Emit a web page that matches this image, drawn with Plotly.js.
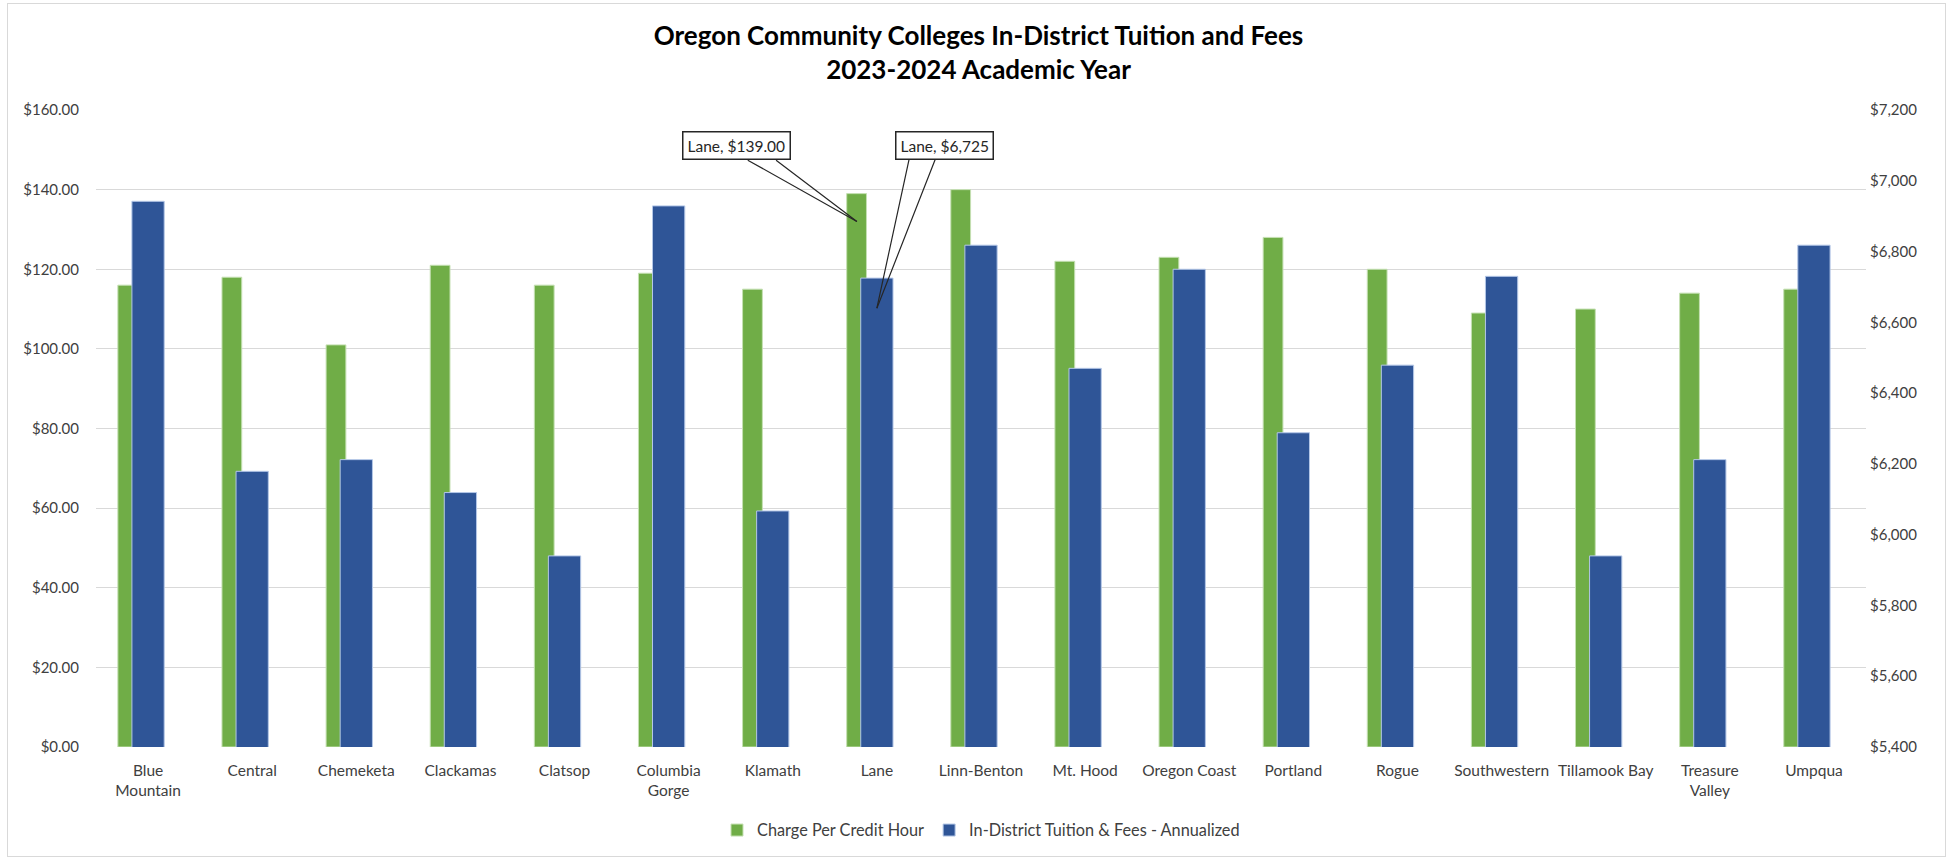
<!DOCTYPE html>
<html>
<head>
<meta charset="utf-8">
<script src="https://cdn.plot.ly/plotly-3.0.1.min.js"></script>
<style>
  html, body { margin: 0; padding: 0; background: #ffffff; }
  #wrap { position: relative; width: 1957px; height: 861px; }
  #chart { position: absolute; left: 0; top: 0; width: 1957px; height: 861px; }
  #frame { position: absolute; left: 7px; top: 3px; width: 1939px; height: 854px;
           border: 1px solid #D9D9D9; pointer-events: none; box-sizing: border-box; }
</style>
</head>
<body>
<div id="wrap"><div id="chart"></div><div id="frame"></div></div>
<script>
// ---- data ----
const colleges = ["Blue Mountain", "Central", "Chemeketa", "Clackamas", "Clatsop",
  "Columbia Gorge", "Klamath", "Lane", "Linn-Benton", "Mt. Hood", "Oregon Coast",
  "Portland", "Rogue", "Southwestern", "Tillamook Bay", "Treasure Valley", "Umpqua"];

const tickLabels = ["Blue<br>Mountain", "Central", "Chemeketa", "Clackamas", "Clatsop",
  "Columbia<br>Gorge", "Klamath", "Lane", "Linn-Benton", "Mt. Hood", "Oregon Coast",
  "Portland", "Rogue", "Southwestern", "Tillamook Bay", "Treasure<br>Valley", "Umpqua"];

const chargePerCreditHour = [116, 118, 101, 121, 116, 119, 115, 139, 140, 122, 123,
  128, 120, 109, 110, 114, 115];

const annualizedTuition = [6942, 6179, 6212, 6119, 5940, 6929, 6067, 6725, 6818, 6470,
  6750, 6288, 6479, 6730, 5940, 6212, 6818];

const leftTicks = [0, 20, 40, 60, 80, 100, 120, 140, 160];
const rightTicks = [5400, 5600, 5800, 6000, 6200, 6400, 6600, 6800, 7000, 7200];

// callout targets (where the callout wedges point)
const calloutCollege = "Lane";
const greenCalloutY = 132;
const blueCalloutY = 6640;

// ---- chart ----
const li = colleges.indexOf(calloutCollege);
const fmtMoney2 = v => "$" + v.toFixed(2);
const fmtMoney0 = v => "$" + v.toLocaleString("en-US");

const GREEN = "#70AD47", BLUE = "#2F5597";
const FONT = "Lato, 'Open Sans', sans-serif";
const TXT = "#404040";

const traces = [
  {
    type: "bar", name: "Charge Per Credit Hour",
    x: colleges, y: chargePerCreditHour, yaxis: "y",
    width: 0.19, offset: -0.29,
    marker: { color: GREEN, line: { color: "#C5E0B3", width: 1 } },
    hoverinfo: "skip"
  },
  {
    type: "bar", name: "In-District Tuition & Fees - Annualized",
    x: colleges, y: annualizedTuition, yaxis: "y2",
    width: 0.31, offset: -0.155,
    marker: { color: BLUE, line: { color: "#B4C7E7", width: 1 } },
    hoverinfo: "skip"
  }
];

function callout(text, yref, yval, xshift, boxAx, boxAy, wedge) {
  const out = [{
    x: calloutCollege, y: yval, xref: "x", yref: yref, xshift: xshift,
    text: text, showarrow: true, arrowcolor: "rgba(0,0,0,0)", arrowhead: 0,
    ax: boxAx, ay: boxAy,
    font: { family: FONT, size: 15.5, color: "#262626" },
    bgcolor: "#ffffff", bordercolor: "#262626", borderwidth: 1.5, borderpad: 4
  }];
  wedge.forEach(([ax, ay]) => out.push({
    x: calloutCollege, y: yval, xref: "x", yref: yref, xshift: xshift,
    text: "", showarrow: true, arrowhead: 0, arrowwidth: 1.2, arrowcolor: "#262626",
    ax: ax, ay: ay, standoff: 0, startstandoff: 0, borderpad: 0
  }));
  return out;
}

const annotations = [].concat(
  callout(calloutCollege + ", " + fmtMoney2(chargePerCreditHour[li]), "y", greenCalloutY, -20,
          -120, -76, [[-109.6, -61.6], [-81.3, -61.6]]),
  callout(calloutCollege + ", " + fmtMoney0(annualizedTuition[li]), "y2", blueCalloutY, 0,
          68, -163, [[32.3, -149.4], [58.6, -149.4]])
);

const layout = {
  width: 1957, height: 861,
  paper_bgcolor: "#ffffff", plot_bgcolor: "#ffffff",
  margin: { l: 96, r: 91, t: 110, b: 113.5 },
  barmode: "overlay",
  title: {
    text: "Oregon Community Colleges In-District Tuition and Fees<br>2023-2024 Academic Year",
    font: { family: FONT, size: 26, color: "#000000", weight: "bold" },
    x: 0.5, xanchor: "center", yref: "container", y: 1 - 45 / 861, yanchor: "top"
  },
  xaxis: {
    type: "category", tickmode: "array", tickvals: colleges, ticktext: tickLabels,
    tickfont: { family: FONT, size: 15.5, color: TXT },
    showgrid: false, showline: false, zeroline: false, ticks: "",
    ticklabelstandoff: 12, range: [-0.5, colleges.length - 0.5]
  },
  yaxis: {
    range: [0, 160], tickmode: "array", tickvals: leftTicks,
    ticktext: leftTicks.map(fmtMoney2),
    tickfont: { family: FONT, size: 15, color: TXT },
    showgrid: true, gridcolor: "#D9D9D9", gridwidth: 1, zeroline: false,
    showline: false, ticks: "", ticklabelstandoff: 16
  },
  yaxis2: {
    range: [5400, 7200], overlaying: "y", side: "right", tickmode: "array",
    tickvals: rightTicks, ticktext: rightTicks.map(fmtMoney0),
    tickfont: { family: FONT, size: 15, color: TXT },
    showgrid: false, zeroline: false, showline: false, ticks: "", ticklabelstandoff: 3
  },
  legend: {
    orientation: "h", x: 0.5, xanchor: "center", y: -0.131, yanchor: "middle",
    font: { family: FONT, size: 16.3, color: TXT }, traceorder: "normal",
    itemwidth: 30
  },
  annotations: annotations,
  showlegend: true
};

Plotly.newPlot("chart", traces, layout, { displayModeBar: false, staticPlot: true });
</script>
</body>
</html>
